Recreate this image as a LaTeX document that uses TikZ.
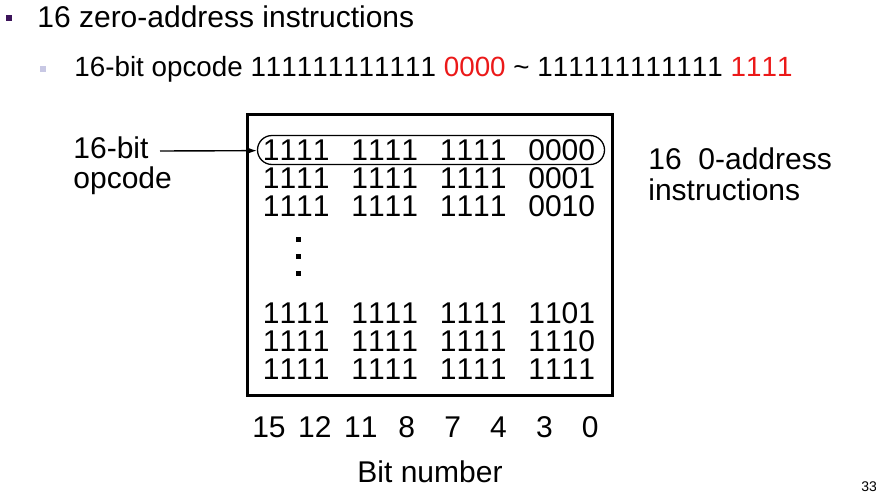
\documentclass[tikz,border=0pt]{standalone}
\usepackage{fontspec}
\setmainfont{Liberation Sans}[Kerning=Off]
\usetikzlibrary{positioning,arrows.meta}
\definecolor{bulletpurple}{RGB}{60,20,90}
\definecolor{bulletlilac}{RGB}{200,200,228}
\definecolor{hired}{RGB}{235,25,25}
\newcommand{\figfont}{\fontsize{30}{30}\selectfont}
\newcommand{\grp}[1]{\makebox[88.5pt][l]{#1}}
\begin{document}
\begin{tikzpicture}[x=1pt,y=-1pt,thick,node distance=28pt,
	fig text/.style={inner sep=0pt,text height=21pt,text depth=6pt,font=\figfont},
	row/.style={fig text},
	bullet/.style={rectangle,inner sep=0pt,minimum size=6pt},
	dot/.style={rectangle,fill=black,inner sep=0pt,minimum size=5pt}]

	\useasboundingbox (0,0) rectangle (876,498);

	% bullets
	\node[bullet,fill=bulletpurple] (BulletOne) at (8.5,17.5) {};
	\node[fig text,font=\fontsize{30}{30}\selectfont,anchor=base west] (TitleOne) at (37,27) {16 zero-address instructions};
	\node[bullet,fill=bulletlilac] (BulletTwo) at (43,69) {};
	\node[fig text,font=\fontsize{27.8}{27.8}\selectfont,anchor=base west] (TitleTwo) at (74,76) {16-bit opcode 111111111111 \textcolor{hired}{0000} \textasciitilde{} 111111111111 \textcolor{hired}{1111}};

	% frame and opcodes
	\node[draw,line width=3pt,minimum width=365pt,minimum height=281pt,inner sep=0pt] (Frame) at (430,255) {};
	\node[row] (RowA) at (429,152.5) {\grp{1111}\grp{1111}\grp{1111}0000};
	\node[row] (RowB) [below of=RowA] {\grp{1111}\grp{1111}\grp{1111}0001};
	\node[row] (RowC) [below of=RowB] {\grp{1111}\grp{1111}\grp{1111}0010};
	\node[dot] (DotA) at (298,239) {};
	\node[dot] (DotB) [below of=DotA,node distance=17pt] {};
	\node[dot] (DotC) [below of=DotB,node distance=17pt] {};
	\node[row] (RowD) at (429,315.5) {\grp{1111}\grp{1111}\grp{1111}1101};
	\node[row] (RowE) [below of=RowD] {\grp{1111}\grp{1111}\grp{1111}1110};
	\node[row] (RowF) [below of=RowE] {\grp{1111}\grp{1111}\grp{1111}1111};
	\node[draw,line width=1.3pt,rounded corners=14.5pt,minimum width=347pt,minimum height=29pt,inner sep=0pt] (Oval) at (431,150) {};

	% side labels
	\node[fig text,anchor=base west] (BitLabel) at (73,158) {16-bit};
	\node[fig text,anchor=base west] (OpcodeLabel) at ([yshift=-30pt]BitLabel.base west) {opcode};
	\coordinate (ArrowTail) at (160,151);
	\node[fig text,anchor=base west] (CountLabel) at (648,169) {16\ \ 0-address};
	\node[fig text,anchor=base west] (InstrLabel) at ([yshift=-31pt]CountLabel.base west) {instructions};

	\path[-{Latex[length=10pt,width=7pt]},line width=1.4pt]
		(ArrowTail)	edge	(Oval);

	% bit numbers
	\node[fig text] (BitA) at (269,429.5) {15};
	\node[fig text] (BitB) [right of=BitA,node distance=45.9pt] {12};
	\node[fig text] (BitC) [right of=BitB,node distance=45.9pt] {11};
	\node[fig text] (BitD) [right of=BitC,node distance=45.9pt] {8};
	\node[fig text] (BitE) [right of=BitD,node distance=45.9pt] {7};
	\node[fig text] (BitF) [right of=BitE,node distance=45.9pt] {4};
	\node[fig text] (BitG) [right of=BitF,node distance=45.9pt] {3};
	\node[fig text] (BitH) [right of=BitG,node distance=45.9pt] {0};
	\node[fig text] (Axis) at (430,474.5) {Bit number};

	\node[inner sep=0pt,font=\fontsize{14}{14}\selectfont,anchor=base west] (Page) at (861,491) {33};
\end{tikzpicture}
\end{document}
